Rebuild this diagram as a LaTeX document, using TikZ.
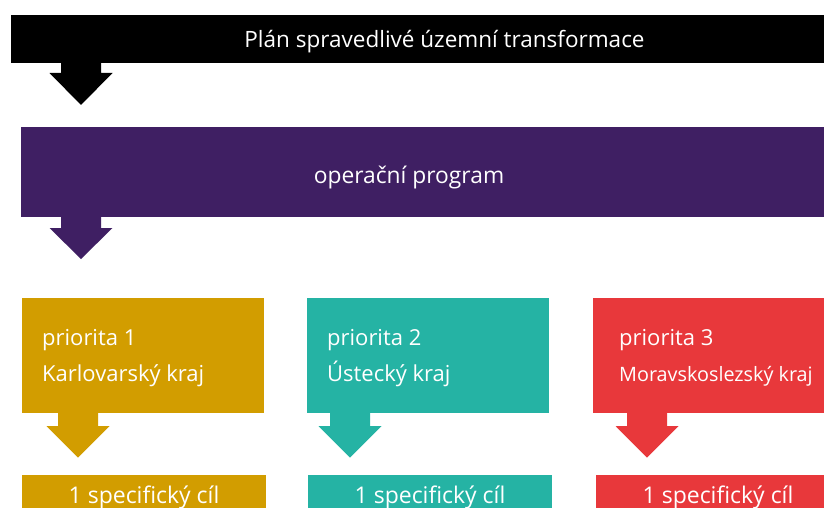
\documentclass[tikz,border=0pt]{standalone}
\usepackage{fontspec}
\setmainfont{Open Sans}
\definecolor{cblack}{HTML}{000000}
\definecolor{cpurple}{HTML}{3F1F63}
\definecolor{cgold}{HTML}{D29D00}
\definecolor{cteal}{HTML}{25B3A4}
\definecolor{cred}{HTML}{E8383B}
\newcommand{\blockarr}[5]{%
  \fill[#5] (#1-20,#2) -- (#1+20,#2) -- (#1+20,#3) -- (#1+31.5,#3) -- (#1,#4) -- (#1-31.5,#3) -- (#1-20,#3) -- cycle;}
\begin{document}
\begin{tikzpicture}[x=1pt,y=-1pt,
  box/.style={rectangle, inner sep=0pt, outer sep=0pt, anchor=north west},
  lbl/.style={text=white, inner sep=0pt, anchor=base west, font=\fontsize{22}{26}\selectfont},
  clbl/.style={text=white, inner sep=0pt, anchor=base, font=\fontsize{22.5}{27}\selectfont}]
\useasboundingbox (0,0) rectangle (824,508);
\clip (0,0) rectangle (824,508);
\fill[white] (0,0) rectangle (824,508);
% boxes
\fill[cblack] (11,15) rectangle (830,62.7) node[box] (plan) {};
\fill[cpurple] (21,127) rectangle (830,217) node[box] (op) {};
\fill[cgold] (22,298) rectangle (264,412.7) node[box] (p1) {};
\fill[cteal] (307,298) rectangle (549,412.7) node[box] (p2) {};
\fill[cred] (593,298) rectangle (830,412.7) node[box] (p3) {};
\fill[cgold] (22,475) rectangle (266,515) node[box] (c1) {};
\fill[cteal] (308,475) rectangle (552,515) node[box] (c2) {};
\fill[cred] (596,475) rectangle (830,515) node[box] (c3) {};
% block arrows
\blockarr{81}{60}{73}{105}{cblack}
\blockarr{81}{215}{228}{259}{cpurple}
\blockarr{78}{410}{426}{457.7}{cgold}
\blockarr{350}{410}{426}{457.7}{cteal}
\blockarr{647}{410}{426}{457.7}{cred}
% texts
\node[clbl] (tplan) at (444.5,48) {Plán spravedlivé územní transformace};
\node[clbl, font=\fontsize{22.8}{27}\selectfont] (top) at (409,183) {operační program};
\node[lbl] (tp1a) at (42,345) {priorita 1};
\node[lbl] (tp1b) at (42,381) {Karlovarský kraj};
\node[lbl] (tp2a) at (327,345) {priorita 2};
\node[lbl] (tp2b) at (327,381) {Ústecký kraj};
\node[lbl] (tp3a) at (619,345) {priorita 3};
\node[lbl, font=\fontsize{19.8}{24}\selectfont] (tp3b) at (619,381) {Moravskoslezský kraj};
\node[clbl, font=\fontsize{23}{27}\selectfont] (tc1) at (144,503) {1 specifický cíl};
\node[clbl, font=\fontsize{23}{27}\selectfont] (tc2) at (430,503) {1 specifický cíl};
\node[clbl, font=\fontsize{23}{27}\selectfont] (tc3) at (718,503) {1 specifický cíl};
\end{tikzpicture}
\end{document}
